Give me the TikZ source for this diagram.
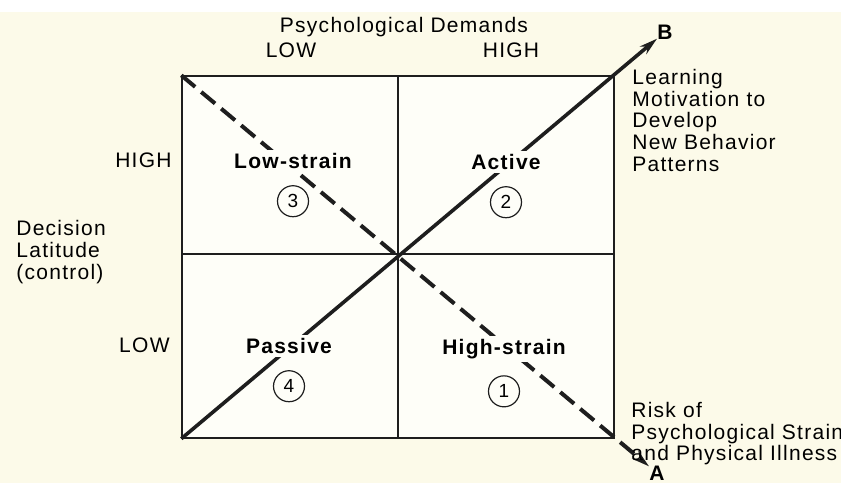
\documentclass[tikz,border=0pt]{standalone}
\usepackage{fontspec}
\setmainfont[LetterSpace=6]{Liberation Sans}
\usetikzlibrary{arrows.meta, positioning}
\definecolor{papercolor}{RGB}{252, 250, 233}
\definecolor{cellcolor}{RGB}{254, 254, 248}
\definecolor{inkcolor}{RGB}{30, 30, 30}

\begin{document}
\begin{tikzpicture}[
    x=0.5pt, y=-0.5pt,
    node distance=6.5pt,
    cell/.style={draw=inkcolor, line width=0.7pt, fill=cellcolor,
                 minimum width=108pt, inner sep=0pt},
    axislabel/.style={font=\fontsize{10.5}{10}\selectfont, inner sep=1pt},
    sidenote/.style={align=left, anchor=north west, inner sep=0pt,
                     font=\fontsize{10.5}{10.8}\selectfont},
    quadname/.style={font=\fontsize{10.5}{10}\selectfont\bfseries,
                     fill=cellcolor, inner sep=1.5pt},
    number/.style={circle, draw=inkcolor, line width=0.6pt, inner sep=0pt,
                   minimum size=15.5pt, font=\fontsize{9.5}{9.5}\selectfont},
    endlabel/.style={font=\fontsize{10.5}{10.5}\selectfont\bfseries, inner sep=0pt},
    learnarr/.style={-{Stealth[length=9pt, width=5pt]}, line width=1.8pt, inkcolor},
    riskarr/.style={-{Stealth[length=9pt, width=5pt]}, line width=2pt, inkcolor,
                    dash pattern=on 9pt off 4pt}
]
% Paper
\useasboundingbox (0,0) rectangle (841,483);
\fill[papercolor] (0,0) rectangle (841,483);
\fill[white] (0,0) rectangle (841,12);
% Quadrants
\node[cell, minimum height=89pt] (c3) at (290,165) {};
\node[cell, minimum height=89pt] (c2) at (506,165) {};
\node[cell, minimum height=92pt] (c4) at (290,346) {};
\node[cell, minimum height=92pt] (c1) at (506,346) {};
% Ends of the diagonals
\node[endlabel] (B) at (665,32) {B};
\node[endlabel] (A) at (657,473) {A};
\draw[learnarr] (c4.south west) -- (B);
\draw[riskarr] (c3.north west) -- (A);
% Axis labels
\node[axislabel] (demands) at (404,27) {Psychological Demands};
\node[axislabel] (lowD) at (291,50) {LOW};
\node[axislabel] (highD) at (511,50) {HIGH};
\node[axislabel, anchor=east] (highL) at (174,160) {HIGH};
\node[axislabel, anchor=east] (lowL) at (172,345) {LOW};
\node[sidenote, anchor=west] (latitude) at (16,252)
    {Decision\\Latitude\\(control)};
% Outcomes
\node[sidenote] (learning) at (632,69)
    {Learning\\Motivation to\\Develop\\New Behavior\\Patterns};
\node[sidenote] (risk) at (631,402)
    {Risk of\\Psychological Strain\\and Physical Illness};
% Quadrant names
\node[quadname] (lowstrain) at (293,161) {Low-strain};
\node[quadname] (active) at (506,162) {Active};
\node[quadname] (passive) at (289,346) {Passive};
\node[quadname] (highstrain) at (504,349) {High-strain};
\node[number, below=of lowstrain] (n3) {3};
\node[number, below=of active] (n2) {2};
\node[number, below=of passive] (n4) {4};
\node[number, below=of highstrain] (n1) {1};
\end{tikzpicture}
\end{document}
